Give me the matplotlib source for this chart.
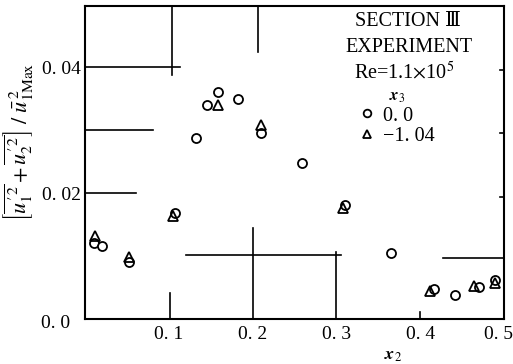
import matplotlib
matplotlib.use("Agg")
import matplotlib.pyplot as plt
from matplotlib.lines import Line2D
from matplotlib.transforms import ScaledTranslation

plt.rcParams['font.family'] = ['Liberation Serif', 'DejaVu Serif', 'Noto Sans CJK JP']
plt.rcParams['mathtext.fontset'] = 'stix'

# x3 = 0.0 (circles)
x_c = [0.011, 0.020, 0.052, 0.107, 0.133, 0.146, 0.159, 0.182, 0.210, 0.259,
       0.310, 0.365, 0.416, 0.441, 0.470, 0.489]
y_c = [0.0121, 0.0116, 0.0090, 0.0168, 0.0287, 0.0340, 0.0360, 0.0349, 0.0295,
       0.0248, 0.0181, 0.0105, 0.0048, 0.0038, 0.0051, 0.0062]
# x3 = -1.04 (triangles)
x_t = [0.012, 0.052, 0.105, 0.159, 0.210, 0.308, 0.412, 0.464, 0.489]
y_t = [0.0132, 0.0099, 0.0164, 0.0340, 0.0308, 0.0177, 0.0044, 0.0052, 0.0057]

xticks = [0.1, 0.2, 0.3, 0.4, 0.5]
xticklabels = ['0. 1', '0. 2', '0. 3', '0. 4', '0. 5']
yticks = [0.0, 0.02, 0.04]
yticklabels = ['0. 0', '0. 02', '0. 04']
legend_labels = ['0. 0', '\u22121. 04']

fig = plt.figure(figsize=(5.13, 3.64), dpi=100)
ax = fig.add_axes([85/513, 1-319/364, 419/513, 313/364])
ax.set_xlim(0, 0.5)
ax.set_ylim(0, 0.0497)

for s in ax.spines.values():
    s.set_linewidth(1.5)

# long guide ticks (as in the original scan)
lw = 1.2
ax.plot([0, 0.113], [0.04, 0.04], color='black', lw=lw)
ax.plot([0, 0.081], [0.03, 0.03], color='black', lw=lw)
ax.plot([0, 0.061], [0.02, 0.02], color='black', lw=lw)
ax.plot([0.121, 0.305], [0.0101, 0.0101], color='black', lw=lw)
ax.plot([0.427, 0.5], [0.0097, 0.0097], color='black', lw=lw)
ax.plot([0.104, 0.104], [0.0387, 0.0497], color='black', lw=lw)
ax.plot([0.101, 0.101], [0, 0.0041], color='black', lw=lw)
ax.plot([0.206, 0.206], [0.0424, 0.0497], color='black', lw=lw)
ax.plot([0.201, 0.201], [0, 0.0144], color='black', lw=lw)
ax.plot([0.300, 0.300], [0, 0.0106], color='black', lw=lw)
ax.plot([0.400, 0.400], [0, 0.0011], color='black', lw=lw)
for yy in [0.0395, 0.0295, 0.0194]:
    ax.plot([0.495, 0.5], [yy, yy], color='black', lw=lw)

ax.plot(x_c, y_c, linestyle='none', marker='o', markersize=6.5,
        markerfacecolor='white', markeredgecolor='black', markeredgewidth=1.3,
        zorder=3)
ax.plot(x_t, y_t, linestyle='none', marker='^', markersize=6.5,
        markerfacecolor='none', markeredgecolor='black', markeredgewidth=1.3,
        zorder=3)

ax.set_xticks(xticks)
ax.set_xticklabels(xticklabels)
ax.set_yticks(yticks)
ax.set_yticklabels(yticklabels)
ax.tick_params(length=0, labelsize=14)
ax.tick_params(axis='x', pad=5)
ax.tick_params(axis='y', pad=3)

# shift the corner labels as in the original
xl = ax.get_xticklabels()[-1]
xl.set_transform(xl.get_transform() + ScaledTranslation(-6/100, 0, fig.dpi_scale_trans))
yl = ax.get_yticklabels()[0]
yl.set_transform(yl.get_transform() + ScaledTranslation(-11/100, -3/100, fig.dpi_scale_trans))

ax.set_ylabel(r'$\left[\overline{u^{\prime\,2}_{1}}+\overline{u^{\prime\,2}_{2}}\right]\ /\ \bar{u}^{\,2}_{1\mathrm{Max}}$',
              fontsize=16)
ax.yaxis.set_label_coords(-0.12, 0.566)
ax.set_xlabel(r'$\boldsymbol{x}_2$', fontsize=13)
ax.xaxis.set_label_coords(0.735, -0.088)

fig.text(408/513, 1-22/364, 'SECTION \u2162', ha='center', va='center', fontsize=14.5)
fig.text(409/513, 1-48/364, 'EXPERIMENT', ha='center', va='center', fontsize=14.5)
fig.text(404/513, 1-73/364, r'Re=1.1$\times$10$^5$', ha='center', va='center', fontsize=14.5)

handles = [Line2D([], [], linestyle='none', marker='o', markersize=5.5,
                  markerfacecolor='white', markeredgecolor='black', markeredgewidth=1.3),
           Line2D([], [], linestyle='none', marker='^', markersize=5.5,
                  markerfacecolor='none', markeredgecolor='black', markeredgewidth=1.3)]
leg = ax.legend(handles, legend_labels, title=r'$\boldsymbol{x}_3$',
                loc='upper left', bbox_to_anchor=(359/513, 1-89/364),
                bbox_transform=fig.transFigure, frameon=False, fontsize=14.5,
                title_fontsize=12, handlelength=0.8, handletextpad=0.4,
                labelspacing=0.05, borderpad=0, borderaxespad=0)

fig.savefig('out.png', dpi=100)
